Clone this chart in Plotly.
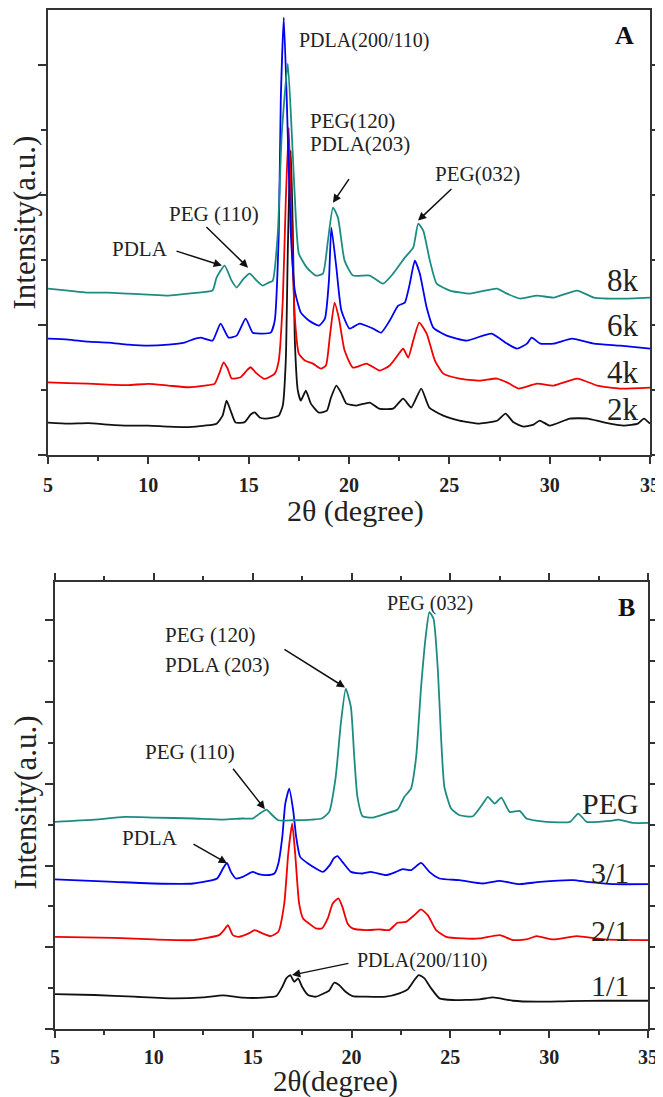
import plotly.graph_objects as go

# ---------------- Panel A : PDLA-PEG-PDLA with different PEG Mn ----------------
A_2k_x = [5.0, 6.0, 7.0, 8.0, 9.0, 10.0, 11.0, 12.0, 12.8, 13.4, 13.7, 13.9, 14.1, 14.35, 14.8, 15.1, 15.3, 15.55,
          15.8, 16.2, 16.5, 16.7, 16.85, 16.95, 17.05, 17.1, 17.2, 17.3, 17.45, 17.6, 17.85, 18.1, 18.5, 18.9, 19.1,
          19.37, 19.6, 19.87, 20.37, 21.03, 21.5, 22.2, 22.7, 23.1, 23.6, 24.0, 24.7, 25.5, 26.5, 27.4, 27.8, 28.2,
          28.7, 29.2, 29.5, 30.0, 31.0, 31.9, 32.7, 33.7, 34.4, 34.7, 35.0]
A_2k_y = [246, 238, 242, 231, 223, 223, 215, 212, 223, 238, 300, 415, 338, 246, 250, 308, 325, 285,
          277, 285, 300, 377, 723, 1569, 2223, 2338, 1723, 877, 492, 415, 492, 392, 323, 338, 438,
          531, 477, 392, 377, 400, 354, 354, 431, 362, 508, 362, 300, 262, 238, 262, 315, 248,
          215, 231, 262, 223, 277, 277, 248, 223, 238, 277, 238]

A_4k_x = [5.0, 6.0, 7.0, 8.0, 9.0, 10.0, 11.0, 12.0, 12.8, 13.3, 13.55, 13.75, 13.95, 14.15, 14.6, 14.9, 15.1,
          15.35, 15.8, 16.3, 16.5, 16.7, 16.85, 17.0, 17.15, 17.3, 17.5, 17.8, 18.2, 18.6, 18.85, 19.05, 19.28,
          19.5, 19.78, 20.2, 20.87, 21.53, 22.03, 22.53, 22.7, 22.95, 23.2, 23.5, 23.87, 24.28, 24.7, 25.5, 26.5,
          27.37, 27.9, 28.45, 29.37, 30.2, 31.37, 32.37, 33.5, 35.0]
A_4k_y = [556, 550, 546, 538, 535, 544, 531, 518, 531, 544, 631, 710, 662, 585, 595, 646, 672,
          631, 582, 623, 723, 1185, 1954, 2515, 1700, 1054, 777, 723, 700, 662, 685, 915, 1169,
          1046, 800, 669, 700, 646, 685, 785, 815, 746, 877, 1015, 931, 723, 623, 585, 569,
          585, 554, 508, 546, 531, 585, 531, 508, 515]

A_6k_x = [5.0, 6.0, 7.0, 8.0, 9.0, 10.0, 11.0, 11.8, 12.2, 12.6, 13.2, 13.6, 14.0, 14.4, 14.85, 15.2, 15.6,
          16.1, 16.3, 16.5, 16.6, 16.75, 16.9, 17.1, 17.3, 17.6, 18.0, 18.5, 18.8, 19.0, 19.12, 19.37, 19.62,
          20.03, 20.53, 21.2, 21.6, 22.03, 22.45, 22.78, 23.03, 23.28, 23.53, 23.87, 24.2, 24.87, 25.87, 27.1,
          27.87, 28.37, 28.87, 29.1, 29.53, 30.2, 31.12, 32.2, 33.53, 35.0]
A_6k_y = [892, 885, 869, 862, 846, 838, 846, 862, 885, 900, 877, 1008, 900, 915, 1046, 938, 931,
          938, 1031, 1700, 2723, 3362, 2723, 1700, 1262, 1092, 1031, 992, 1046, 1338, 1746, 1438, 1108,
          969, 1008, 969, 938, 1031, 1146, 1169, 1315, 1492, 1392, 1131, 977, 915, 877, 931,
          854, 815, 854, 900, 854, 854, 892, 854, 838, 815]

A_8k_x = [5.0, 6.0, 7.0, 8.0, 9.0, 10.0, 11.0, 12.0, 12.5, 13.2, 13.4, 13.8, 14.15, 14.4, 14.75, 15.05, 15.4,
          15.7, 16.0, 16.2, 16.45, 16.65, 16.95, 17.15, 17.35, 17.5, 17.9, 18.35, 18.7, 18.95, 19.2, 19.45,
          19.78, 20.2, 21.03, 21.7, 22.2, 22.78, 23.2, 23.45, 23.7, 24.03, 24.37, 25.03, 26.03, 27.37, 27.87,
          28.53, 29.37, 30.2, 31.37, 32.2, 33.53, 35.0]
A_8k_y = [1277, 1262, 1246, 1246, 1238, 1231, 1223, 1238, 1246, 1262, 1362, 1454, 1338, 1285, 1354, 1392, 1338,
          1300, 1323, 1338, 1700, 2469, 3008, 2469, 1823, 1546, 1438, 1377, 1392, 1646, 1900, 1823,
          1492, 1377, 1377, 1315, 1392, 1515, 1592, 1777, 1723, 1492, 1315, 1262, 1238, 1277, 1238,
          1200, 1223, 1208, 1262, 1208, 1200, 1208]

# ---------------- Panel B : blends with different ratios ----------------
B_11_x = [5.0, 7.0, 9.0, 11.0, 12.5, 13.5, 14.5, 15.5, 16.2, 16.5, 16.7, 16.9, 17.1, 17.3, 17.5, 17.8, 18.2,
          18.6, 18.87, 19.12, 19.37, 19.7, 20.05, 20.73, 21.74, 22.42, 22.84, 23.18, 23.4, 23.69, 24.03, 24.45,
          25.13, 26.48, 27.16, 28.17, 29.36, 31.05, 32.74, 35.0]
B_11_y = [428, 416, 395, 375, 387, 412, 383, 383, 403, 517, 620, 660, 578, 620, 517, 416, 395,
          436, 469, 566, 538, 456, 403, 395, 395, 436, 485, 599, 660, 620, 497, 375,
          355, 363, 387, 346, 334, 342, 346, 346]

B_21_x = [5.0, 8.0, 10.0, 12.0, 13.3, 13.55, 13.75, 14.0, 14.3, 14.8, 15.1, 15.5, 15.9, 16.3, 16.6, 16.8, 17.0,
          17.15, 17.35, 17.55, 17.85, 18.2, 18.5, 18.8, 19.05, 19.34, 19.54, 19.8, 20.05, 20.73, 21.4, 21.9,
          22.33, 22.76, 23.18, 23.52, 23.86, 24.28, 24.79, 25.63, 26.48, 27.5, 28.17, 28.85, 29.36, 30.2,
          31.39, 32.74, 35.0]
B_21_y = [1128, 1116, 1096, 1088, 1149, 1210, 1271, 1149, 1128, 1170, 1210, 1170, 1137, 1190, 1537, 2148, 2515,
          2148, 1537, 1353, 1292, 1231, 1231, 1353, 1537, 1598, 1495, 1292, 1231, 1210, 1219, 1210,
          1300, 1312, 1394, 1463, 1394, 1210, 1128, 1108, 1108, 1149, 1088, 1096, 1137, 1096,
          1137, 1096, 1088]

B_31_x = [5.0, 8.0, 10.0, 12.0, 13.2, 13.5, 13.7, 13.9, 14.15, 14.5, 15.0, 15.3, 15.7, 16.1, 16.3, 16.5, 16.65,
          16.85, 17.05, 17.2, 17.4, 17.8, 18.2, 18.55, 18.9, 19.1, 19.29, 19.54, 19.97, 20.56, 20.98, 21.74,
          22.25, 22.59, 23.01, 23.52, 23.94, 24.45, 25.47, 26.65, 27.5, 28.51, 29.53, 31.22, 31.9, 33.25, 35.0]
B_31_y = [1830, 1801, 1781, 1781, 1842, 1964, 2033, 1923, 1842, 1862, 1923, 1895, 1883, 1903, 2026, 2351, 2759,
          2943, 2677, 2351, 2107, 2026, 1964, 1923, 2005, 2087, 2115, 2046, 1923, 1903, 1923, 1883,
          1923, 1956, 1944, 2033, 1923, 1842, 1822, 1781, 1813, 1773, 1801, 1822, 1801, 1773, 1773]

B_PEG_x = [5.0, 7.0, 8.5, 10.0, 12.0, 13.5, 14.5, 15.0, 15.4, 15.7, 16.0, 16.3, 17.0, 18.0, 18.5, 18.87, 19.2,
           19.46, 19.71, 19.97, 20.14, 20.3, 20.56, 21.07, 21.74, 22.33, 22.67, 23.01, 23.27, 23.52, 23.77,
           23.94, 24.15, 24.37, 24.53, 24.7, 25.04, 25.47, 26.14, 26.65, 26.9, 27.24, 27.58, 28.0, 28.51,
           28.85, 29.86, 31.05, 31.47, 31.9, 33.08, 33.5, 34.26, 35.0]
B_PEG_y = [2535, 2563, 2596, 2588, 2576, 2563, 2576, 2576, 2644, 2686, 2616, 2555, 2555, 2563, 2576, 2657, 3084,
           3737, 4165, 3940, 3329, 2840, 2604, 2588, 2637, 2686, 2840, 2943, 3329, 4185, 4837,
           5101, 5020, 4389, 3573, 2962, 2698, 2616, 2604, 2759, 2840, 2759, 2833, 2657, 2669,
           2576, 2535, 2535, 2637, 2535, 2547, 2563, 2522, 2522]

A_labels = ["2k", "4k", "6k", "8k"]
B_labels = ["1/1", "2/1", "3/1", "PEG"]
colors = ["#111111", "#f00000", "#0000f2", "#1c8c82"]

SERIF = "Liberation Serif, Times New Roman, serif"

fig = go.Figure()
for (x, y), c in zip([(A_2k_x, A_2k_y), (A_4k_x, A_4k_y), (A_6k_x, A_6k_y), (A_8k_x, A_8k_y)], colors):
    fig.add_trace(go.Scatter(x=x, y=y, mode="lines", line=dict(color=c, width=1.8, shape="spline", smoothing=0.5),
                             xaxis="x", yaxis="y", showlegend=False, hoverinfo="skip"))
for (x, y), c in zip([(B_11_x, B_11_y), (B_21_x, B_21_y), (B_31_x, B_31_y), (B_PEG_x, B_PEG_y)], colors):
    fig.add_trace(go.Scatter(x=x, y=y, mode="lines", line=dict(color=c, width=1.8, shape="spline", smoothing=0.5),
                             xaxis="x2", yaxis="y2", showlegend=False, hoverinfo="skip"))

axis_common = dict(showline=True, linewidth=2, linecolor="#333", mirror="allticks", ticks="outside",
                   tickwidth=1.5, tickcolor="#333", showgrid=False, zeroline=False, automargin=False)
xcommon = dict(axis_common, range=[5, 35], dtick=5, tick0=5, ticklen=7,
               minor=dict(dtick=2.5, ticklen=4, tickwidth=1.5, tickcolor="#333", ticks="outside"),
               tickfont=dict(family=SERIF, size=20, color="#222", weight="bold"))
ycommon = dict(axis_common, showticklabels=False, dtick=1000, tick0=0, ticklen=8,
               minor=dict(dtick=500, ticklen=5, tickwidth=1.5, tickcolor="#333", ticks="outside"))

# the page body adds an 8 px offset, so the figure is 8 px smaller than the window
fig.update_layout(
    width=655, height=1089,
    margin=dict(l=40, r=13, t=2, b=68, autoexpand=False),
    paper_bgcolor="white", plot_bgcolor="white",
    xaxis=dict(xcommon, domain=[0, 1], anchor="y", ticklabelstandoff=4),
    yaxis=dict(ycommon, domain=[0.5637, 1.0], range=[0, 3420], anchor="x"),
    xaxis2=dict(xcommon, domain=[0.0116, 0.9967], anchor="y2", ticklabelstandoff=2),
    yaxis2=dict(ycommon, domain=[0, 0.4382], range=[0, 5465], anchor="x2"),
    font=dict(family=SERIF, color="#222"),
)

ann = []
def txt(text, x, y, xr, yr, size=20, xanchor="left", bold=False, color="#222"):
    t = "<b>" + text + "</b>" if bold else text
    ann.append(dict(text=t, x=x, y=y, xref=xr, yref=yr, showarrow=False, xanchor=xanchor,
                    yanchor="middle", font=dict(family=SERIF, size=size, color=color)))

def arrow(x, y, ax, ay, xr, yr):
    ann.append(dict(text="", x=x, y=y, ax=ax, ay=ay, xref=xr, yref=yr, axref=xr, ayref=yr,
                    showarrow=True, arrowhead=2, arrowsize=1.1, arrowwidth=1.5, arrowcolor="#111"))

# Panel A annotations
txt("PDLA(200/110)", 17.41, 3185, "x", "y", 20)
txt("PEG(120)", 17.95, 2569, "x", "y", 21)
txt("PDLA(203)", 17.95, 2392, "x", "y", 21)
arrow(19.2, 1938, 20.05, 2131, "x", "y")
txt("PEG(032)", 24.18, 2162, "x", "y", 21)
arrow(23.44, 1800, 25.18, 2054, "x", "y")
txt("PEG (110)", 10.93, 1854, "x", "y", 21)
arrow(14.97, 1438, 12.82, 1762, "x", "y")
txt("PDLA", 8.09, 1585, "x", "y", 21)
arrow(13.67, 1454, 11.33, 1569, "x", "y")
txt("A", 33.75, 3223, "x", "y", 26, xanchor="center", bold=True, color="#111")
for lab, yv in zip(A_labels, [346, 631, 992, 1338]):
    txt(lab, 33.65, yv, "x", "y", 31, xanchor="center")

# Panel B annotations
txt("B", 33.93, 5159, "x2", "y2", 26, xanchor="center", bold=True, color="#111")
txt("PEG (032)", 21.69, 5208, "x2", "y2", 20)
txt("PEG (120)", 10.46, 4817, "x2", "y2", 21)
txt("PDLA (203)", 10.46, 4450, "x2", "y2", 21)
arrow(19.67, 4181, 16.53, 4658, "x2", "y2")
txt("PEG (110)", 9.45, 3386, "x2", "y2", 21)
arrow(15.62, 2690, 13.95, 3203, "x2", "y2")
txt("PDLA", 8.29, 2335, "x2", "y2", 21)
arrow(13.7, 2029, 11.93, 2274, "x2", "y2")
txt("PDLA(200/110)", 20.17, 844, "x2", "y2", 20)
arrow(16.99, 660, 19.92, 807, "x2", "y2")
for lab, yv in zip(B_labels, [538, 1210, 1919, 2763]):
    txt(lab, 33.1, yv, "x2", "y2", 30, xanchor="center")

# Axis titles
def title(text, x, y, angle=0, size=31):
    ann.append(dict(text=text, x=x, y=y, xref="paper", yref="paper", showarrow=False, textangle=angle,
                    xanchor="center", yanchor="middle", font=dict(family=SERIF, size=size, color="#222")))

title("Intensity(a.u.)", -0.039, 0.791, -90, 31)
title("Intensity(a.u.)", -0.038, 0.2225, -90, 31)
title("2θ (degree)", 0.5116, 0.5085, 0, 30)
title("2θ(degree)", 0.478, -0.052, 0, 29)

fig.update_layout(annotations=ann)
fig.write_html("out.html")
